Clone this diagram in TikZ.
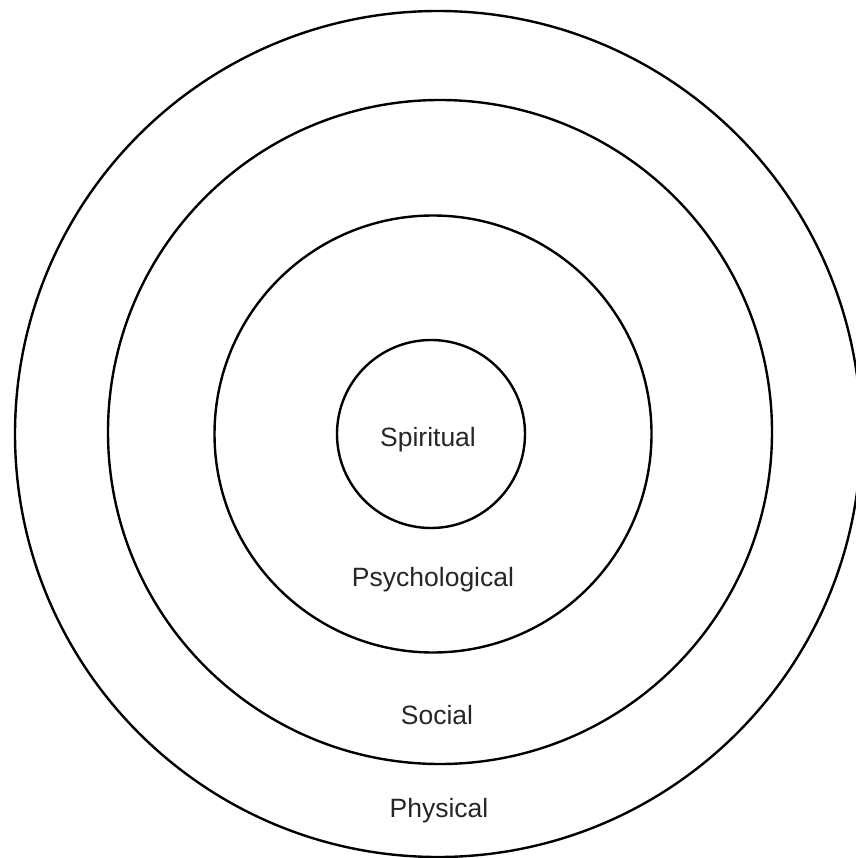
\documentclass[tikz,border=0pt]{standalone}
\usepackage{fontspec}
\setmainfont{Liberation Sans}
\usetikzlibrary{positioning}

\begin{document}
\begin{tikzpicture}[
    x=1pt, y=-1pt,
    ring/.style={circle, draw=black, line width=2.4pt, inner sep=0pt},
    lbl/.style={font=\fontsize{26.5}{30}\selectfont, text=black!85}
]
\useasboundingbox (0,0) rectangle (855,858);

% Circles
\node (physical) [ring, minimum size=846pt] at (438,434) {};
\node (social) [ring, minimum size=664pt] at (440,432) {};
\node (psycho) [ring, minimum size=437pt] at (433,434) {};
\node (spiritual) [ring, minimum size=188pt] at (431,434) {};

% Labels
\node (spiritualtxt) [lbl] at (428,440) {Spiritual};
\node (psychotxt) [lbl] at (433,580) {Psychological};
\node (socialtxt) [lbl] at (437,715) {Social};
\node (physicaltxt) [lbl] at (439,811) {Physical};

\end{tikzpicture}
\end{document}
